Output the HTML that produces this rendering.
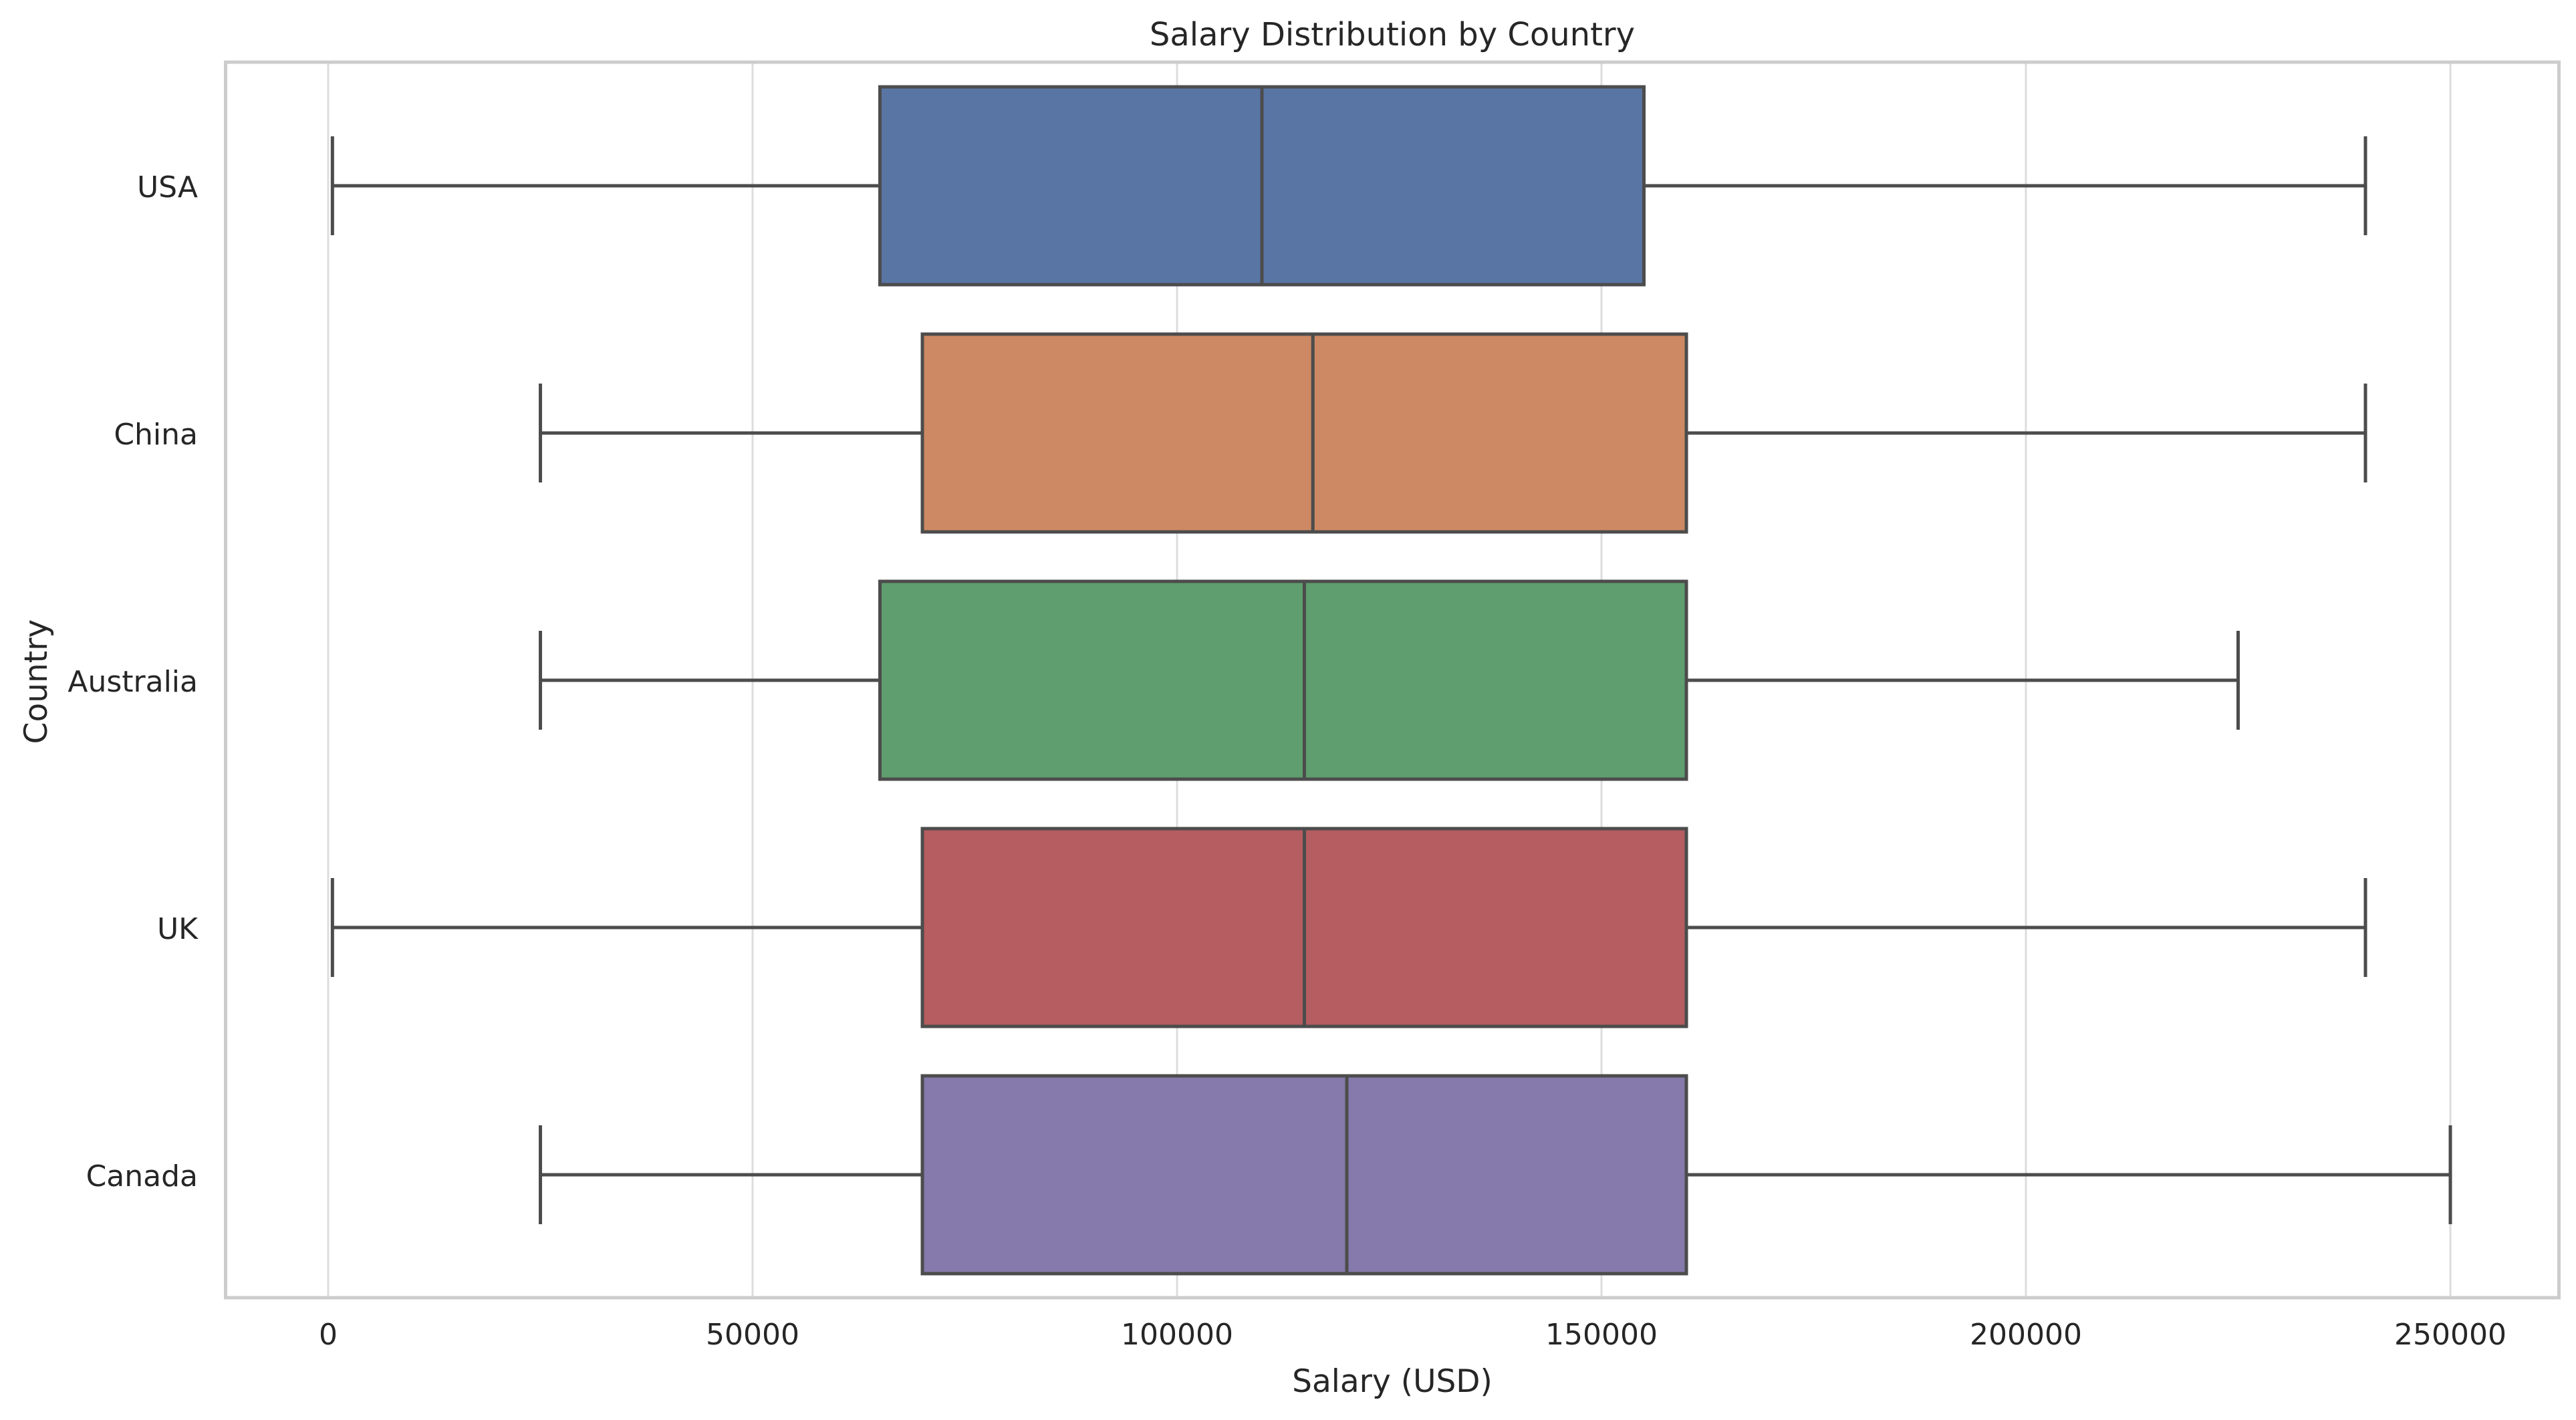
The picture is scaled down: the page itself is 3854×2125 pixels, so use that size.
<!DOCTYPE html>
<html><head><meta charset="utf-8"><style>
html,body{margin:0;padding:0;background:#fff;}
svg text{font-family:"DejaVu Sans","Liberation Sans",sans-serif;fill:#262626;}
</style></head><body>
<svg id="chart" width="3854" height="2120" xmlns="http://www.w3.org/2000/svg">
<rect width="3854" height="2120" fill="#fff"/>
<g id="grid"></g>
<g id="boxes"></g>
<rect x="337.5" y="93" width="3491" height="1849" fill="none" stroke="#cccccc" stroke-width="5"/>
<g id="labels"></g>
<text x="2083" y="68" font-size="48" text-anchor="middle">Salary Distribution by Country</text>
<text x="2083" y="2083" font-size="47" text-anchor="middle">Salary (USD)</text>
<text x="70" y="1020" font-size="47" text-anchor="middle" transform="rotate(-90 70 1020)">Country</text>
</svg>
<script>
const countries = ["USA","China","Australia","UK","Canada"];
const whiskerLow = [500,25000,25000,500,25000];
const q1 = [65000,70000,65000,70000,70000];
const medians = [110000,116000,115000,115000,120000];
const q3 = [155000,160000,160000,160000,160000];
const whiskerHigh = [240000,240000,225000,240000,250000];
const xTicks = [0,50000,100000,150000,200000,250000];
const colors = ["#5875a4","#cc8963","#5f9e6e","#b55d60","#857aab"];

const NS="http://www.w3.org/2000/svg";
const X0=491, PX=635/50000;
function xs(v){return X0+v*PX;}
function ys(i){return 278+i*370;}
function mk(tag,attrs,parent){const e=document.createElementNS(NS,tag);for(const k in attrs)e.setAttribute(k,attrs[k]);parent.appendChild(e);return e;}
const grid=document.getElementById('grid'), boxes=document.getElementById('boxes'), labels=document.getElementById('labels');
xTicks.forEach(t=>{
  const l=mk('line',{x1:xs(t),x2:xs(t),y1:93,y2:1942,stroke:'#dddddd','stroke-width':3},grid);
  
  
  const tx=mk('text',{x:xs(t),y:2012,'font-size':44,'text-anchor':'middle'},labels);
  tx.textContent=t;
  
  
});
const lc='#4c4c4c', lw=5, bh=296, cap=148;
countries.forEach((c,i)=>{
  const y=ys(i);
  const g=mk('g',{},boxes);
  
  
  mk('line',{x1:xs(whiskerLow[i]),x2:xs(q1[i]),y1:y,y2:y,stroke:lc,'stroke-width':lw},g);
  mk('line',{x1:xs(q3[i]),x2:xs(whiskerHigh[i]),y1:y,y2:y,stroke:lc,'stroke-width':lw},g);
  mk('line',{x1:xs(whiskerLow[i]),x2:xs(whiskerLow[i]),y1:y-cap/2,y2:y+cap/2,stroke:lc,'stroke-width':lw},g);
  mk('line',{x1:xs(whiskerHigh[i]),x2:xs(whiskerHigh[i]),y1:y-cap/2,y2:y+cap/2,stroke:lc,'stroke-width':lw},g);
  mk('rect',{x:xs(q1[i]),y:y-bh/2,width:xs(q3[i])-xs(q1[i]),height:bh,fill:colors[i],stroke:lc,'stroke-width':lw},g);
  mk('line',{x1:xs(medians[i]),x2:xs(medians[i]),y1:y-bh/2,y2:y+bh/2,stroke:lc,'stroke-width':lw},g);
  const t=mk('text',{x:296,y:y+17,'font-size':44,'text-anchor':'end'},labels);
  t.textContent=c;
  
  
});
</script>
</body></html>
